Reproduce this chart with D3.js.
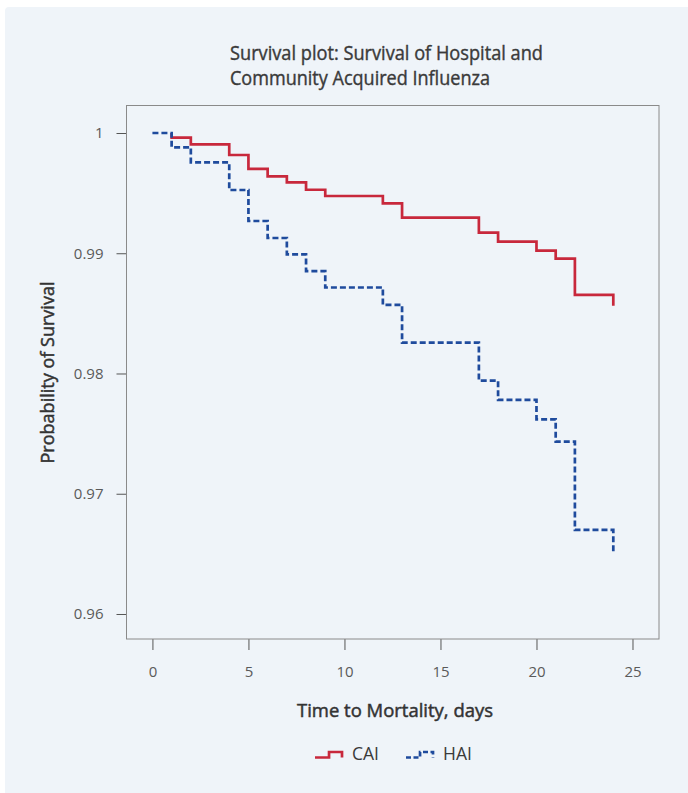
<!DOCTYPE html>
<html>
<head>
<meta charset="utf-8">
<script src="https://cdn.jsdelivr.net/npm/d3@7"></script>
<style>
  body { margin: 0; background: #ffffff; }
  svg text { font-family: "Open Sans", "Noto Sans", sans-serif; }
</style>
</head>
<body>
<div id="chart"></div>
<script>
// Data
const cai_time = [1, 1, 2, 4, 5, 6, 7, 8, 9, 12, 13, 17, 18, 20, 21, 22, 24];
const cai_surv = [1, 0.99961, 0.99906, 0.99817, 0.99701, 0.9964, 0.9959, 0.99528, 0.99476,
                  0.99415, 0.99296, 0.99171, 0.99096, 0.99021, 0.98955, 0.98653, 0.98564];
const hai_time = [0, 1, 2, 4, 5, 6, 7, 8, 9, 12, 13, 17, 18, 20, 21, 22, 24];
const hai_surv = [1, 0.99881, 0.99756, 0.99526, 0.99268, 0.99127, 0.98991, 0.98852, 0.98715,
                  0.9857, 0.98256, 0.9794, 0.9778, 0.97619, 0.97433, 0.96699, 0.96496];
const x_ticks = [0, 5, 10, 15, 20, 25];
const y_ticks = [0.96, 0.97, 0.98, 0.99, 1];
const series_names = ["CAI", "HAI"];

const W = 688, H = 793;
const box = { left: 126.5, right: 659, top: 105.5, bottom: 639 };
const red = "#c8283c", blue = "#1f4b9d";

const svg = d3.select("#chart").append("svg")
    .attr("width", W)
    .attr("height", H);

// panel background
svg.append("rect")
    .attr("x", 5).attr("y", 7)
    .attr("width", W - 5 + 6).attr("height", H - 7 + 6)
    .attr("rx", 4)
    .attr("fill", "#eff4f9");

const x = d3.scaleLinear().domain([-1.35, 26.38]).range([box.left, box.right]);
const y = d3.scaleLinear().domain([0.95792, 1.002287]).range([box.bottom, box.top]);

// axes
const xAxis = svg.append("g")
    .attr("transform", "translate(0," + box.bottom + ")")
    .call(d3.axisBottom(x).tickValues(x_ticks).tickSize(11).tickPadding(16).tickFormat(d3.format("d")));
const yAxis = svg.append("g")
    .attr("transform", "translate(" + box.left + ",0)")
    .call(d3.axisLeft(y).tickValues(y_ticks).tickSize(10).tickPadding(13).tickFormat(d => d === 1 ? "1" : d3.format(".2f")(d)));

[xAxis, yAxis].forEach(g => {
    g.select(".domain").remove();
    g.selectAll(".tick line").attr("stroke", "#555").attr("stroke-width", 1);
    g.selectAll(".tick text").attr("fill", "#5a5a5a").style("font-size", "15px");
});

// plot box
svg.append("rect")
    .attr("x", box.left).attr("y", box.top)
    .attr("width", box.right - box.left).attr("height", box.bottom - box.top)
    .attr("fill", "none")
    .attr("stroke", "#8a8a8a")
    .attr("stroke-width", 1);

const line = d3.line()
    .x(d => x(d[0]))
    .y(d => y(d[1]))
    .curve(d3.curveStepAfter);

svg.append("path")
    .datum(d3.zip(cai_time, cai_surv))
    .attr("fill", "none")
    .attr("stroke", red)
    .attr("stroke-width", 2.7)
    .attr("d", line);

svg.append("path")
    .datum(d3.zip(hai_time, hai_surv))
    .attr("fill", "none")
    .attr("stroke", blue)
    .attr("stroke-width", 2.7)
    .attr("stroke-dasharray", "6,3")
    .attr("d", line);

// Title, two lines (thin stroke gives the medium weight of the original)
const titleLines = ["Survival plot: Survival of Hospital and", "Community Acquired Influenza"];
const titleWidths = [313, 260];
titleLines.forEach((t, i) => {
    svg.append("text")
        .attr("x", 230).attr("y", 60 + i * 24.5)
        .attr("fill", "#3a3a3a")
        .attr("stroke", "#3a3a3a")
        .attr("stroke-width", 0.4)
        .attr("textLength", titleWidths[i]).attr("lengthAdjust", "spacingAndGlyphs")
        .style("font-size", "19.5px")
        .text(t);
});

// Axis labels
svg.append("text")
    .attr("x", 395).attr("y", 717)
    .attr("text-anchor", "middle")
    .attr("fill", "#333")
    .attr("stroke", "#333")
    .attr("stroke-width", 0.5)
    .attr("textLength", 196).attr("lengthAdjust", "spacingAndGlyphs")
    .style("font-size", "19px")
    .text("Time to Mortality, days");

svg.append("text")
    .attr("transform", "translate(54,372.5) rotate(-90)")
    .attr("text-anchor", "middle")
    .attr("fill", "#333")
    .attr("stroke", "#333")
    .attr("stroke-width", 0.5)
    .attr("textLength", 182).attr("lengthAdjust", "spacingAndGlyphs")
    .style("font-size", "19px")
    .text("Probability of Survival");

// Legend
const legend = svg.append("g").attr("transform", "translate(315,752)");
const glyph = d3.scaleLinear().domain([0, 1]).range([0, 27]);
const glyphLine = d3.line().x(d => glyph(d[0])).y(d => d[1] * 5.5).curve(d3.curveStepAfter);
const glyphData = [[0, 1], [0.52, 0], [1, 1], [1, 1]];
const legendX = [0, 91];
[red, blue].forEach((c, i) => {
    const g = legend.append("g").attr("transform", "translate(" + legendX[i] + ",0)");
    g.append("path")
        .datum(glyphData)
        .attr("fill", "none")
        .attr("stroke", c)
        .attr("stroke-width", 2.7)
        .attr("stroke-dasharray", i === 1 ? "5,2.5" : null)
        .attr("d", glyphLine);
    g.append("text")
        .attr("x", 37).attr("y", 8)
        .attr("fill", "#3a3a3a")
        .style("font-size", "17.5px")
        .text(series_names[i]);
});
</script>
</body>
</html>
